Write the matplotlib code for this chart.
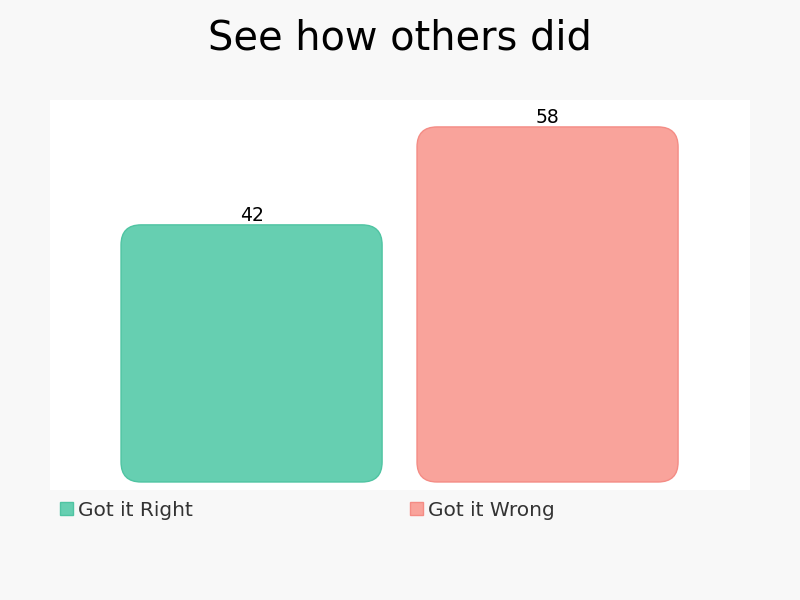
import matplotlib
matplotlib.use("Agg")
import matplotlib.pyplot as plt
from matplotlib.patches import FancyBboxPatch, Patch

categories = ["Got it Right", "Got it Wrong"]
values = [42, 58]
fill_colors = ["#66cfb1", "#f9a39b"]
edge_colors = ["#4fc4a2", "#f48c85"]

fig = plt.figure(figsize=(8, 6), dpi=100, facecolor="#f8f8f8")
ax = fig.add_axes([50/800, 110/600, 700/800, 390/600])
ax.set_facecolor("white")
for s in ax.spines.values():
    s.set_visible(False)
ax.set_xticks([]); ax.set_yticks([])

xlim = (-0.681, 1.684)
ylim = (-1.31, 62.4)
ax.set_xlim(*xlim); ax.set_ylim(*ylim)

width = 0.882
rx = 0.0676
ry = 3.27
for i, (cat, v) in enumerate(zip(categories, values)):
    p = FancyBboxPatch((i - width/2, 0), width, v,
                       boxstyle=f"round,pad=0,rounding_size={rx}",
                       mutation_aspect=ry/rx,
                       facecolor=fill_colors[i], edgecolor=edge_colors[i], linewidth=1)
    ax.add_patch(p)
    ax.text(i, v + 0.05, str(v), ha="center", va="bottom", fontsize=13.5, color="#000000")

fig.text(0.5, 1 - 39/600, "See how others did", ha="center", va="center", fontsize=28.7, color="#000000")

anchors = [4/700, 354/700]
for i in range(2):
    h = Patch(facecolor=fill_colors[i], edgecolor=edge_colors[i], label=categories[i])
    leg = ax.legend(handles=[h], loc="upper left",
                    bbox_to_anchor=(anchors[i], -0.012), frameon=False, fontsize=14.5,
                    handlelength=0.62, handleheight=0.62, handletextpad=0.25,
                    borderaxespad=0, borderpad=0.3, labelcolor="#333333")
    if i == 0:
        ax.add_artist(leg)

fig.savefig("out.png", dpi=100, facecolor=fig.get_facecolor())
